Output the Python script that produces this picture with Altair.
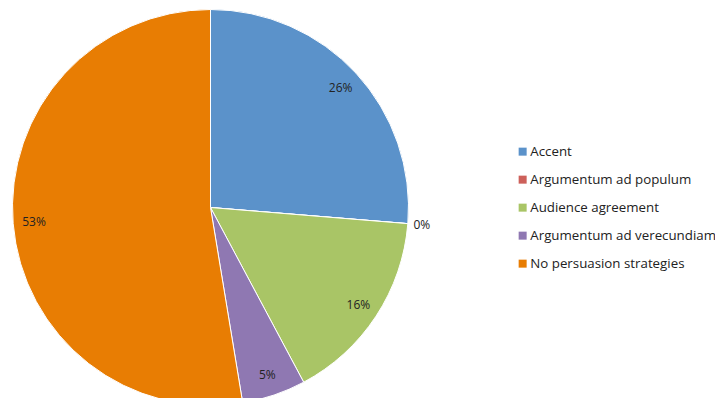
import altair as alt
import pandas as pd

categories = ["Accent", "Argumentum ad populum", "Audience agreement",
              "Argumentum ad verecundiam", "No persuasion strategies"]
values = [26.3, 0, 15.9, 5.2, 52.6]
labels = ["26%", "0%", "16%", "5%", "53%"]
colors = ["#5B92CA", "#CD605A", "#A9C566", "#8F78B2", "#E87D03"]

df = pd.DataFrame({
    "category": categories,
    "value": values,
    "label": labels,
    "order": list(range(len(categories))),
})

cx, cy = 202.5, 199.5

base = alt.Chart(df).encode(
    theta=alt.Theta("value:Q", stack=True),
    order=alt.Order("order:Q", sort="ascending"),
    x=alt.value(cx),
    y=alt.value(cy),
)

pie = base.mark_arc(outerRadius=198, stroke="white", strokeWidth=1).encode(
    color=alt.Color(
        "category:N",
        scale=alt.Scale(domain=categories, range=colors),
        sort=categories,
        legend=alt.Legend(
            title=None,
            orient="none",
            legendX=508,
            legendY=137,
            symbolType="square",
            symbolSize=64,
            symbolStrokeWidth=0,
            labelFont="Open Sans",
            labelFontSize=13.3,
            labelColor="#222222",
            labelLimit=300,
            rowPadding=14,
            labelOffset=1,
            padding=0,
        ),
    )
)

text_in = base.mark_text(radius=177, font="Open Sans", fontSize=12, color="#222222").encode(
    text=alt.condition(alt.datum.value > 0, "label:N", alt.value(""))
)

text_out = base.mark_text(radius=212, font="Open Sans", fontSize=12, color="#222222").encode(
    text=alt.condition(alt.datum.value == 0, "label:N", alt.value(""))
)

chart = alt.layer(pie, text_in, text_out).properties(
    width=707, height=390, autosize=alt.AutoSizeParams(type="none"), padding=0
).configure_view(stroke=None)

chart.save("out.html", embed_options={"renderer": "svg", "actions": False})
